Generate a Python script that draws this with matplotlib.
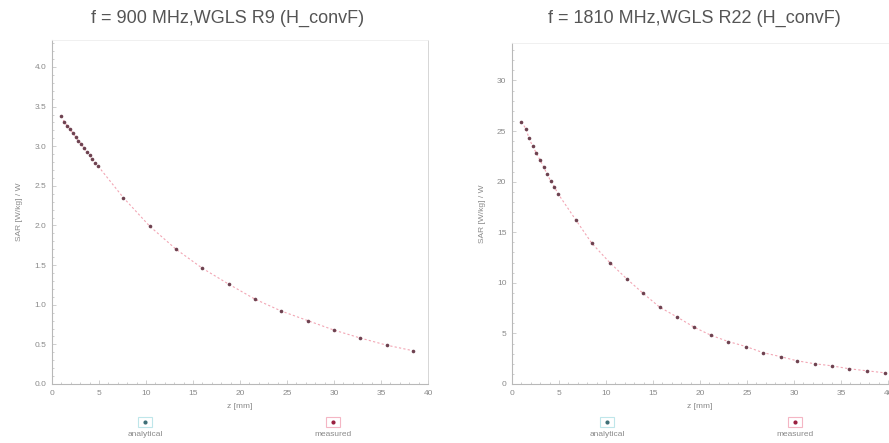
import matplotlib
matplotlib.use("Agg")
import matplotlib.pyplot as plt
from matplotlib.lines import Line2D
from matplotlib.patches import Rectangle
from matplotlib.ticker import MultipleLocator

plt.rcParams['font.family'] = ['Liberation Sans', 'DejaVu Sans']

# ---- data ----
titles = ["f = 900 MHz,WGLS R9 (H_convF)", "f = 1810 MHz,WGLS R22 (H_convF)"]

z_900 = [1.0, 1.3, 1.6, 1.9, 2.2, 2.5, 2.8, 3.1, 3.4, 3.7, 4.0, 4.3, 4.6, 4.9,
         7.6, 10.4, 13.2, 16.0, 18.8, 21.6, 24.4, 27.2, 30.0, 32.8, 35.6, 38.4]
sar_900 = [3.38, 3.31, 3.26, 3.22, 3.17, 3.12, 3.07, 3.03, 2.98, 2.93, 2.89, 2.84, 2.79, 2.75,
           2.35, 1.99, 1.70, 1.46, 1.26, 1.07, 0.92, 0.80, 0.68, 0.58, 0.49, 0.42]

z_1810 = [1.0, 1.5, 1.8, 2.2, 2.6, 3.0, 3.4, 3.7, 4.1, 4.5, 4.9,
          6.8, 8.5, 10.4, 12.2, 13.9, 15.7, 17.6, 19.4, 21.2, 23.0, 24.9, 26.7,
          28.6, 30.3, 32.2, 34.0, 35.9, 37.8, 39.7]
sar_1810 = [25.9, 25.2, 24.3, 23.5, 22.8, 22.1, 21.4, 20.8, 20.1, 19.5, 18.8,
            16.2, 13.9, 12.0, 10.4, 9.0, 7.6, 6.6, 5.6, 4.8, 4.2, 3.7, 3.1,
            2.7, 2.3, 2.0, 1.8, 1.5, 1.3, 1.1]

x_ticks = [0, 5, 10, 15, 20, 25, 30, 35, 40]
y_ticks_900 = [0.0, 0.5, 1.0, 1.5, 2.0, 2.5, 3.0, 3.5, 4.0]
y_ticks_1810 = [0, 5, 10, 15, 20, 25, 30]
legend_labels = ["analytical", "measured"]

# ---- style ----
txt = "#8a8a8a"
axis_col = "#c8c8c8"
meas_col = "#6e4250"
ana_col = "#f2a6b4"

fig = plt.figure(figsize=(8.89, 4.43), dpi=100)
fig.patch.set_facecolor("white")

ax1 = fig.add_axes([52/889, 1-384/443, (428-52)/889, (384-40)/443])
ax2 = fig.add_axes([512/889, 1-384/443, (888-512)/889, (384-43)/443])

panels = [
    (ax1, z_900, sar_900, y_ticks_900, (0, 4.34), "{:.1f}", 0.1),
    (ax2, z_1810, sar_1810, y_ticks_1810, (0, 33.7), "{:d}", 1),
]

for ax, z, s, yt, ylim, fmt, yminor in panels:
    ax.plot(z, s, linestyle=(0, (2, 2)), color=ana_col, lw=0.8, zorder=2)
    ax.plot(z, s, linestyle="none", marker="o", ms=2.6, color=meas_col,
            markeredgewidth=0, zorder=3)
    ax.set_xlim(0, 40)
    ax.set_ylim(*ylim)
    ax.set_xticks(x_ticks)
    ax.set_yticks(yt)
    ax.set_xticklabels([str(t) for t in x_ticks])
    ax.set_yticklabels([fmt.format(t) for t in yt])
    ax.xaxis.set_minor_locator(MultipleLocator(1))
    ax.yaxis.set_minor_locator(MultipleLocator(yminor))
    ax.tick_params(which="both", direction="in", colors=axis_col,
                   labelcolor=txt, labelsize=6, width=0.6)
    ax.tick_params(which="major", length=3, pad=4)
    ax.tick_params(which="minor", length=1.5)
    for sp in ["left", "bottom"]:
        ax.spines[sp].set_color("#b8b8b8")
        ax.spines[sp].set_linewidth(0.8)
    ax.spines["top"].set_color("#eeeeee")
    ax.spines["top"].set_linewidth(0.6)
    ax.spines["right"].set_color("#d0d0d0")
    ax.spines["right"].set_linewidth(0.6)
    ax.set_xlabel("z [mm]", fontsize=6, color=txt, labelpad=5)
    ax.set_ylabel("SAR [W/kg] / W", fontsize=6, color=txt, labelpad=8)

ax2.spines["right"].set_visible(False)

fig.text(228/889, 1-18/443, titles[0], ha="center", va="center",
         fontsize=13, color="#555555")
fig.text(694/889, 1-18/443, titles[1], ha="center", va="center",
         fontsize=13, color="#555555")

# legends below each panel: marker box above text
leg_pos = [(145, 333), (607, 795)]
box_cols = ["#bfe6ea", "#f4b6c4"]
dot_cols = ["#3f6f77", "#9a2040"]
for pair in leg_pos:
    for xpix, lab, bc, dc in zip(pair, legend_labels, box_cols, dot_cols):
        fx = xpix / 889
        fy = 1 - 422/443
        fig.add_artist(Rectangle((fx - 7/889, fy - 5/443), 14/889, 10/443,
                                 transform=fig.transFigure, facecolor="none",
                                 edgecolor=bc, lw=0.8))
        fig.add_artist(Line2D([fx], [fy], transform=fig.transFigure,
                              marker="o", ms=3, color=dc, markeredgewidth=0))
        fig.text(fx, 1 - 434/443, lab, ha="center", va="center",
                 fontsize=6, color=txt)

fig.savefig("out.png", dpi=100)
